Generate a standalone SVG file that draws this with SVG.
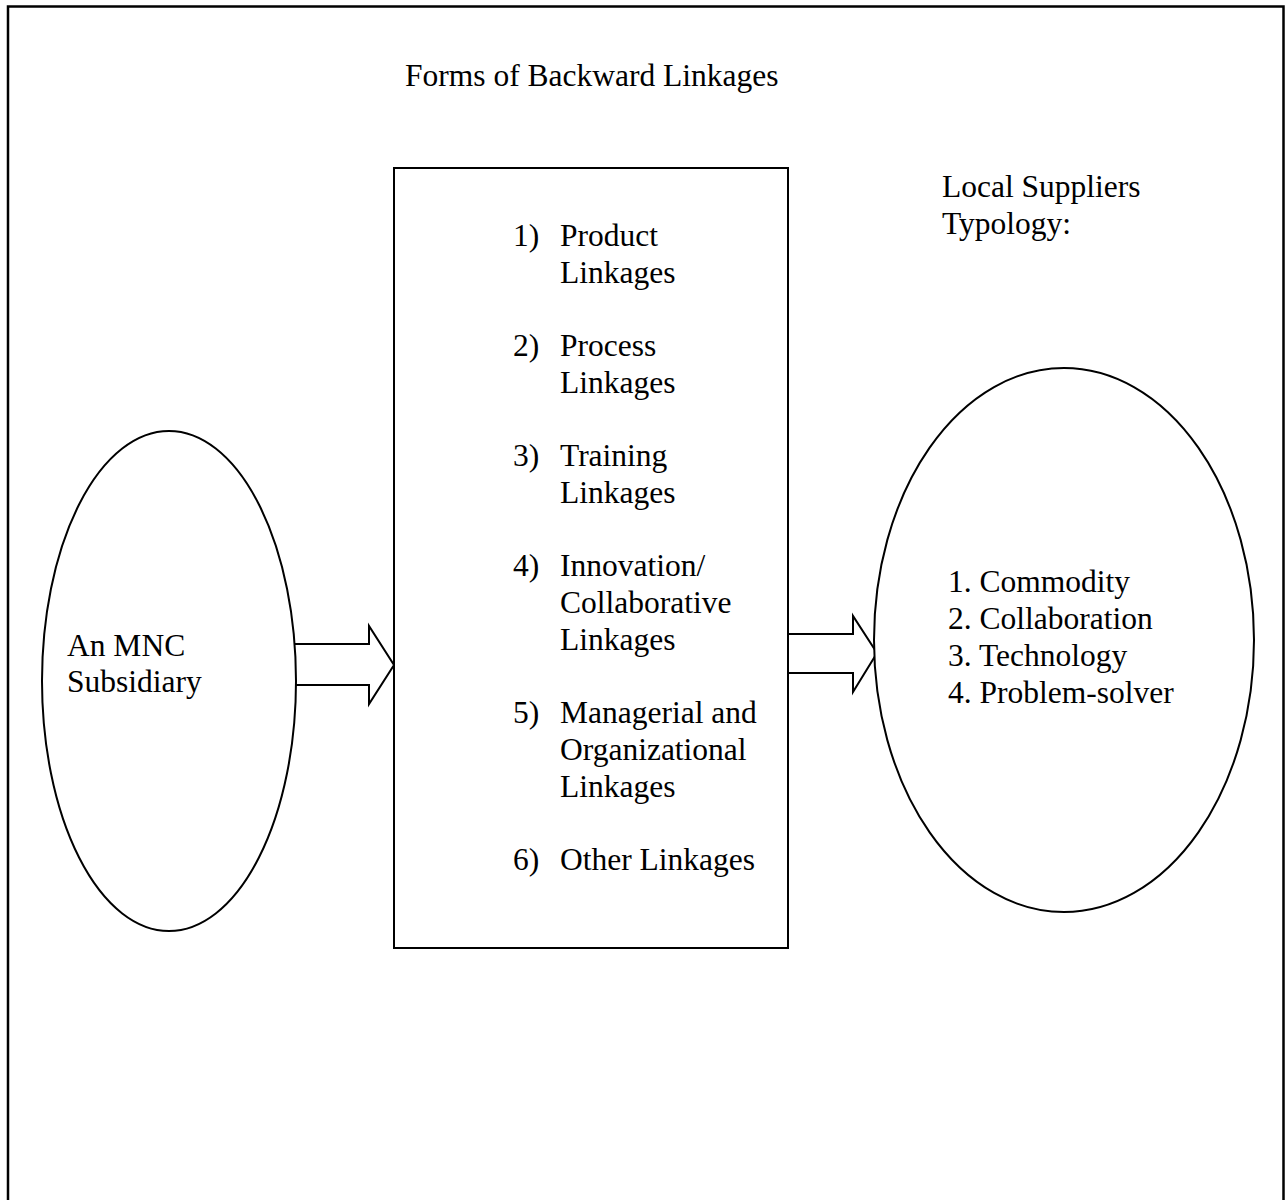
<svg xmlns="http://www.w3.org/2000/svg" width="1287" height="1200" viewBox="0 0 1287 1200">
  <style>
    .txt { font-family: "Liberation Serif", "Times New Roman", serif; font-size: 31.5px; fill: #000; }
    .shape { fill: #fff; stroke: #000; stroke-width: 2; }
    .arrow { fill: #fff; stroke: #000; stroke-width: 2; stroke-linejoin: miter; }
  </style>
  <rect x="0" y="0" width="1287" height="1200" fill="#fff"/>
  <!-- outer frame -->
  <rect x="8" y="6.5" width="1275.5" height="1210" fill="none" stroke="#000" stroke-width="2.5"/>

  <text class="txt" x="405" y="86">Forms of Backward Linkages</text>

  <!-- connectors: block arrows -->
  <g id="connectors">
    <path class="arrow" d="M295,644 H369 V626 L394,665 L369,704 V685 H295"/>
    <path class="arrow" d="M788,634 H853 V616 L877,653 L853,692 V673 H788"/>
  </g>

  <g id="mnc">
    <ellipse class="shape" cx="169" cy="681" rx="127" ry="250"/>
    <text class="txt" x="67" y="656">An MNC</text>
    <text class="txt" x="67" y="692">Subsidiary</text>
  </g>

  <g id="linkages">
    <rect class="shape" x="394" y="168" width="394" height="780"/>
    <text class="txt" x="513" y="246">1)</text>
    <text class="txt" x="560" y="246">Product</text>
    <text class="txt" x="560" y="283">Linkages</text>
    <text class="txt" x="513" y="356">2)</text>
    <text class="txt" x="560" y="356">Process</text>
    <text class="txt" x="560" y="393">Linkages</text>
    <text class="txt" x="513" y="466">3)</text>
    <text class="txt" x="560" y="466">Training</text>
    <text class="txt" x="560" y="503">Linkages</text>
    <text class="txt" x="513" y="576">4)</text>
    <text class="txt" x="560" y="576">Innovation/</text>
    <text class="txt" x="560" y="613">Collaborative</text>
    <text class="txt" x="560" y="650">Linkages</text>
    <text class="txt" x="513" y="723">5)</text>
    <text class="txt" x="560" y="723">Managerial and</text>
    <text class="txt" x="560" y="760">Organizational</text>
    <text class="txt" x="560" y="797">Linkages</text>
    <text class="txt" x="513" y="870">6)</text>
    <text class="txt" x="560" y="870">Other Linkages</text>
  </g>

  <g id="suppliers">
    <text class="txt" x="942" y="197">Local Suppliers</text>
    <text class="txt" x="942" y="234">Typology:</text>
    <ellipse class="shape" cx="1064" cy="640" rx="190" ry="272"/>
    <text class="txt" x="948" y="592">1. Commodity</text>
    <text class="txt" x="948" y="629">2. Collaboration</text>
    <text class="txt" x="948" y="666">3. Technology</text>
    <text class="txt" x="948" y="703">4. Problem-solver</text>
  </g>
</svg>
